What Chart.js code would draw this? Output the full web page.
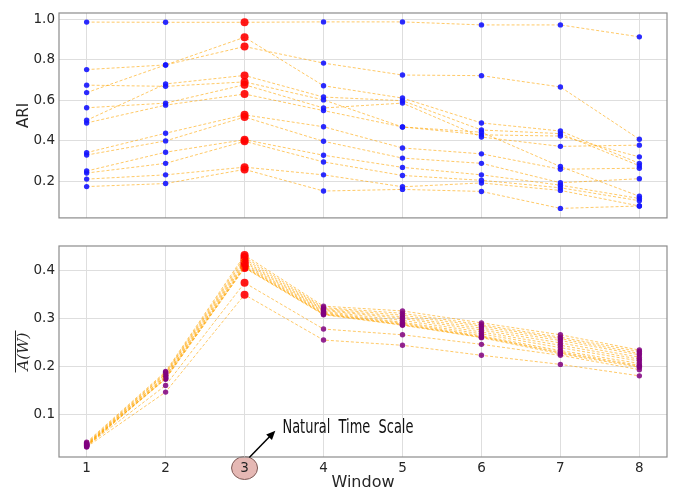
<!DOCTYPE html>
<html>
<head>
<meta charset="utf-8">
<script src="https://cdn.jsdelivr.net/npm/chart.js@4.4.1/dist/chart.umd.min.js"></script>
<style>
  body { margin: 0; background: #fff; }
  #wrap { position: relative; width: 674px; height: 492px; }
  canvas { position: absolute; left: 0; }
  #ariChart { top: 0; }
  #awChart { top: 230px; }
</style>
</head>
<body>
<div id="wrap">
  <canvas id="ariChart" width="674" height="230"></canvas>
  <canvas id="awChart" width="674" height="262"></canvas>
</div>
<script>
// Windows on the x axis, window 3 is the natural time scale
const windows = [1, 2, 3, 4, 5, 6, 7, 8];
const naturalWindow = 3;
const ariTicks = [0.2, 0.4, 0.6, 0.8, 1.0];
const awTicks = [0.1, 0.2, 0.3, 0.4];

// ARI per run (top panel)
const ari1 = [0.987, 0.986, 0.986, 0.988, 0.988, 0.973, 0.973, 0.914];
const ari2 = [0.752, 0.775, 0.912, 0.672, 0.611, 0.488, 0.448, 0.288];
const ari3 = [0.638, 0.775, 0.866, 0.784, 0.725, 0.722, 0.666, 0.407];
const ari4 = [0.675, 0.669, 0.691, 0.602, 0.468, 0.442, 0.272, 0.125];
const ari5 = [0.501, 0.681, 0.723, 0.616, 0.598, 0.453, 0.435, 0.276];
const ari6 = [0.563, 0.586, 0.677, 0.562, 0.586, 0.418, 0.372, 0.378];
const ari7 = [0.488, 0.576, 0.631, 0.549, 0.468, 0.429, 0.423, 0.320];
const ari8 = [0.341, 0.437, 0.528, 0.469, 0.364, 0.335, 0.259, 0.264];
const ari9 = [0.329, 0.399, 0.517, 0.397, 0.314, 0.288, 0.192, 0.212];
const ari10 = [0.250, 0.343, 0.405, 0.328, 0.268, 0.231, 0.180, 0.114];
const ari11 = [0.240, 0.288, 0.397, 0.295, 0.228, 0.204, 0.167, 0.103];
const ari12 = [0.210, 0.231, 0.269, 0.231, 0.172, 0.191, 0.154, 0.077];
const ari13 = [0.173, 0.188, 0.258, 0.151, 0.159, 0.149, 0.065, 0.077];
const ariSeries = [ari1, ari2, ari3, ari4, ari5, ari6, ari7, ari8, ari9, ari10, ari11, ari12, ari13];

// Mean A(W) per run (bottom panel)
const aw1 = [0.041, 0.189, 0.433, 0.326, 0.316, 0.291, 0.266, 0.234];
const aw2 = [0.039, 0.187, 0.429, 0.323, 0.311, 0.287, 0.261, 0.231];
const aw3 = [0.038, 0.185, 0.425, 0.321, 0.307, 0.284, 0.258, 0.227];
const aw4 = [0.036, 0.184, 0.421, 0.319, 0.303, 0.280, 0.254, 0.224];
const aw5 = [0.035, 0.181, 0.418, 0.317, 0.300, 0.276, 0.249, 0.219];
const aw6 = [0.037, 0.179, 0.415, 0.315, 0.296, 0.272, 0.244, 0.215];
const aw7 = [0.034, 0.178, 0.412, 0.313, 0.292, 0.268, 0.239, 0.211];
const aw8 = [0.033, 0.176, 0.410, 0.311, 0.290, 0.264, 0.233, 0.206];
const aw9 = [0.034, 0.175, 0.408, 0.310, 0.288, 0.262, 0.230, 0.202];
const aw10 = [0.032, 0.174, 0.407, 0.309, 0.287, 0.261, 0.228, 0.200];
const aw11 = [0.036, 0.173, 0.406, 0.308, 0.286, 0.260, 0.226, 0.198];
const aw12 = [0.033, 0.160, 0.375, 0.278, 0.266, 0.246, 0.223, 0.193];
const aw13 = [0.031, 0.146, 0.350, 0.255, 0.244, 0.223, 0.204, 0.180];
const awSeries = [aw1, aw2, aw3, aw4, aw5, aw6, aw7, aw8, aw9, aw10, aw11, aw12, aw13];

const textColor = '#262626';
const gridColor = '#dedede';

function isNatural(ctx) {
  return windows[ctx.dataIndex] === naturalWindow;
}

function makeDatasets(series, dotColor) {
  return series.map(vals => ({
    data: vals.map((v, i) => ({ x: windows[i], y: v })),
    borderColor: 'rgba(255,165,0,0.6)',
    borderWidth: 1,
    borderDash: [3, 2],
    tension: 0,
    pointRadius: ctx => isNatural(ctx) ? 4 : 2.7,
    pointBackgroundColor: ctx => isNatural(ctx) ? 'rgba(255,0,0,0.9)' : dotColor,
    pointBorderWidth: 0
  }));
}

function makeScales(yTicks, yMin, yMax, showX, xHeight, yTitle) {
  return {
    x: {
      type: 'linear',
      min: 0.65,
      max: 8.35,
      afterBuildTicks: s => { s.ticks = windows.map(v => ({ value: v })); },
      afterFit: s => { s.height = xHeight; },
      ticks: { display: showX, color: textColor, font: { family: 'DejaVu Sans', size: 13.5 }, padding: 3 },
      grid: { color: gridColor, tickLength: 0 },
      border: { display: false },
      title: {
        display: showX,
        text: 'Window',
        color: textColor,
        font: { family: 'DejaVu Sans', size: 16, lineHeight: 1 },
        padding: { top: 0, bottom: 1 }
      }
    },
    y: {
      min: yMin,
      max: yMax,
      afterBuildTicks: s => { s.ticks = yTicks.map(v => ({ value: v })); },
      afterFit: s => { s.width = 59; },
      ticks: { color: textColor, font: { family: 'DejaVu Sans', size: 13.5 }, padding: 4, callback: v => v.toFixed(1) },
      grid: { color: gridColor, tickLength: 0 },
      border: { display: false },
      title: yTitle
    }
  };
}

// Frame round the plot area, like matplotlib spines
const framePlugin = {
  id: 'frame',
  afterDraw(chart) {
    const { ctx, chartArea: a } = chart;
    ctx.save();
    ctx.strokeStyle = '#8c8c8c';
    ctx.lineWidth = 1.2;
    ctx.strokeRect(a.left, a.top, a.right - a.left, a.bottom - a.top);
    ctx.restore();
  }
};

// Circle behind the "3" tick label
const circlePlugin = {
  id: 'tickCircle',
  beforeDraw(chart) {
    const { ctx, scales } = chart;
    const cx = scales.x.getPixelForValue(naturalWindow);
    const cy = scales.x.top + 11;
    ctx.save();
    ctx.beginPath();
    ctx.ellipse(cx, cy, 13, 11.5, 0, 0, Math.PI * 2);
    ctx.fillStyle = 'rgb(229,184,180)';
    ctx.fill();
    ctx.strokeStyle = '#7d5a56';
    ctx.lineWidth = 1;
    ctx.stroke();
    ctx.restore();
  }
};

// Overline on the y title and the "Natural Time Scale" arrow
const notePlugin = {
  id: 'note',
  afterDraw(chart) {
    const { ctx, scales } = chart;
    const x = scales.x, y = scales.y;

    // overline for A(W)
    const cy = (chart.chartArea.top + chart.chartArea.bottom) / 2;
    ctx.save();
    ctx.font = 'italic 15px "DejaVu Serif"';
    const w = ctx.measureText('A(W)').width;
    ctx.strokeStyle = textColor;
    ctx.lineWidth = 1;
    ctx.beginPath();
    ctx.moveTo(15.5, cy - w / 2 - 2);
    ctx.lineTo(15.5, cy + w / 2 + 2);
    ctx.stroke();
    ctx.restore();

    // arrow
    const x0 = x.getPixelForValue(3.06), y0 = y.getPixelForValue(0.009);
    const x1 = x.getPixelForValue(3.39), y1 = y.getPixelForValue(0.065);
    const ang = Math.atan2(y1 - y0, x1 - x0);
    ctx.save();
    ctx.strokeStyle = '#000';
    ctx.fillStyle = '#000';
    ctx.lineWidth = 1.5;
    ctx.beginPath();
    ctx.moveTo(x0, y0);
    ctx.lineTo(x1 - 6 * Math.cos(ang), y1 - 6 * Math.sin(ang));
    ctx.stroke();
    ctx.beginPath();
    ctx.moveTo(x1, y1);
    ctx.lineTo(x1 - 9 * Math.cos(ang) + 4 * Math.sin(ang), y1 - 9 * Math.sin(ang) - 4 * Math.cos(ang));
    ctx.lineTo(x1 - 9 * Math.cos(ang) - 4 * Math.sin(ang), y1 - 9 * Math.sin(ang) + 4 * Math.cos(ang));
    ctx.closePath();
    ctx.fill();

    // label, squeezed to a narrow face
    const label = 'Natural  Time  Scale';
    ctx.font = '19px "Liberation Sans Narrow", "DejaVu Sans Condensed", "Liberation Sans", sans-serif';
    const lw = ctx.measureText(label).width;
    const tx = x.getPixelForValue(3.48), ty = y.getPixelForValue(0.0605);
    ctx.translate(tx, ty);
    ctx.scale(131 / lw, 1);
    ctx.fillStyle = '#111';
    ctx.textBaseline = 'alphabetic';
    ctx.fillText(label, 0, 0);
    ctx.restore();
  }
};

new Chart(document.getElementById('ariChart'), {
  type: 'line',
  data: { datasets: makeDatasets(ariSeries, 'rgba(20,20,255,0.9)') },
  options: {
    responsive: false,
    animation: false,
    layout: { padding: { top: 13, right: 7, bottom: 6, left: 0 } },
    plugins: { legend: { display: false }, tooltip: { enabled: false } },
    scales: makeScales(ariTicks, 0.018, 1.032, false, 0, {
      display: true,
      text: 'ARI',
      color: textColor,
      font: { family: 'DejaVu Sans', size: 15, lineHeight: 1.2 },
      padding: { top: 15, bottom: 0 }
    })
  },
  plugins: [framePlugin]
});

new Chart(document.getElementById('awChart'), {
  type: 'line',
  data: { datasets: makeDatasets(awSeries, 'rgba(128,0,128,0.85)') },
  options: {
    responsive: false,
    animation: false,
    layout: { padding: { top: 16, right: 7, bottom: 0, left: 0 } },
    plugins: { legend: { display: false }, tooltip: { enabled: false } },
    scales: makeScales(awTicks, 0.010, 0.452, true, 35, {
      display: true,
      text: 'A(W)',
      color: textColor,
      font: { family: 'DejaVu Serif', size: 15, style: 'italic', lineHeight: 1.2 },
      padding: { top: 15, bottom: 0 }
    })
  },
  plugins: [circlePlugin, framePlugin, notePlugin]
});
</script>
</body>
</html>
